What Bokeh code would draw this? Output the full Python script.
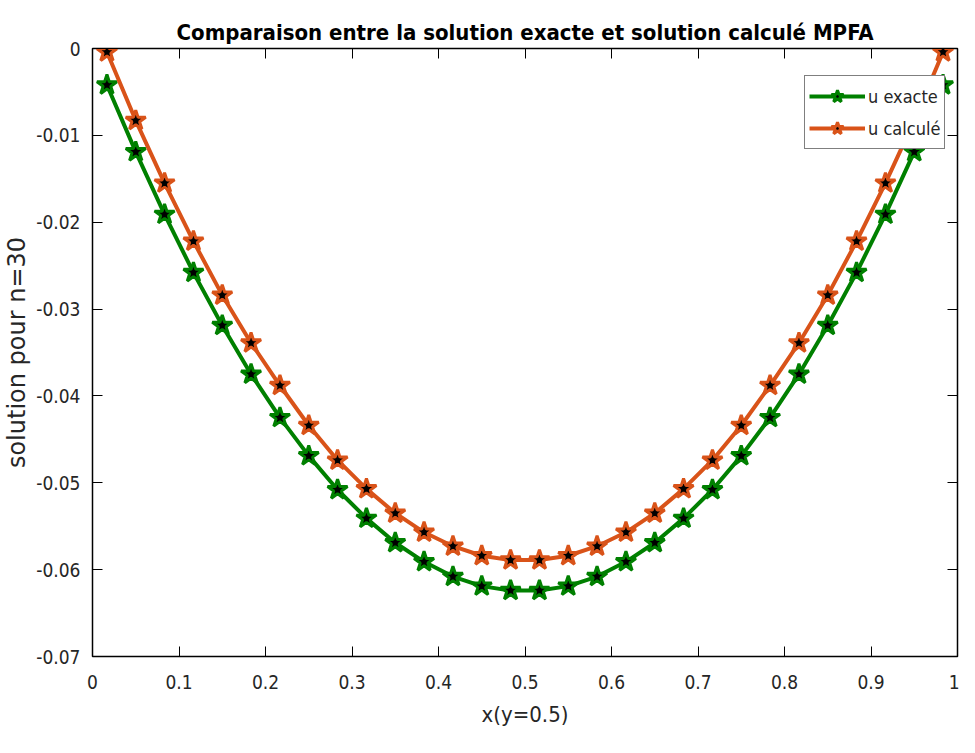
from bokeh.plotting import figure
from bokeh.models import LinearAxis, FixedTicker, PrintfTickFormatter, Range1d
from bokeh.embed import file_html
from bokeh.resources import INLINE

x_vals = [0.0167, 0.05, 0.0833, 0.1167, 0.15, 0.1833, 0.2167, 0.25, 0.2833, 0.3167,
          0.35, 0.3833, 0.4167, 0.45, 0.4833, 0.5167, 0.55, 0.5833, 0.6167, 0.65,
          0.6833, 0.7167, 0.75, 0.7833, 0.8167, 0.85, 0.8833, 0.9167, 0.95, 0.9833]

u_exacte = [-0.0042, -0.0119, -0.0191, -0.0258, -0.0319, -0.0375, -0.0425, -0.0469,
            -0.0508, -0.0541, -0.0569, -0.0591, -0.0608, -0.0619, -0.0624,
            -0.0624, -0.0619, -0.0608, -0.0591, -0.0569, -0.0541, -0.0508,
            -0.0469, -0.0425, -0.0375, -0.0319, -0.0258, -0.0191, -0.0119, -0.0042]

u_calcule = [-0.0004, -0.0083, -0.0155, -0.0222, -0.0284, -0.0339, -0.0388, -0.0434,
             -0.0474, -0.0507, -0.0535, -0.0557, -0.0573, -0.0584, -0.0589,
             -0.0589, -0.0584, -0.0573, -0.0557, -0.0535, -0.0507, -0.0474,
             -0.0434, -0.0388, -0.0339, -0.0284, -0.0222, -0.0155, -0.0083, -0.0004]

x_ticks = [0, 0.1, 0.2, 0.3, 0.4, 0.5, 0.6, 0.7, 0.8, 0.9, 1.0]
y_ticks = [-0.07, -0.06, -0.05, -0.04, -0.03, -0.02, -0.01, 0.0]

GREEN = "#008000"
ORANGE = "#D95319"
FONT = "DejaVu Sans"
COND = "DejaVu Sans Condensed"
TXT = "#262626"

p = figure(width=959, height=737, output_backend="svg", toolbar_location=None,
           x_range=Range1d(0, 1), y_range=Range1d(-0.07, 0),
           min_border_left=90, min_border_right=2, min_border_top=48, min_border_bottom=81)

p.title.text = "Comparaison entre la solution exacte et solution calculé MPFA"
p.title.align = "center"
p.title.text_font = COND
p.title.text_font_size = "22px"
p.title.text_font_style = "bold"
p.title.text_color = "black"
p.title.offset = 0
p.title.standoff = 8

p.grid.visible = False
p.outline_line_color = "black"
p.outline_line_width = 1.5

for ax, ticks in ((p.xaxis[0], x_ticks), (p.yaxis[0], y_ticks)):
    ax.ticker = FixedTicker(ticks=ticks)
    ax.formatter = PrintfTickFormatter(format="%g")
    ax.major_tick_in = 10
    ax.major_tick_out = 0
    ax.minor_tick_line_color = None
    ax.axis_line_color = "black"
    ax.major_tick_line_color = "black"
    ax.major_label_text_font = COND
    ax.major_label_text_font_size = "19px"
    ax.major_label_text_color = TXT

p.xaxis.axis_label = "x(y=0.5)"
p.xaxis.axis_label_text_font = COND
p.xaxis.axis_label_text_font_size = "22px"
p.xaxis.axis_label_text_font_style = "normal"
p.xaxis.axis_label_text_color = TXT
p.xaxis.major_label_standoff = 18
p.xaxis.axis_label_standoff = 10

p.yaxis.axis_label = "solution pour n=30"
p.yaxis.axis_label_text_font = FONT
p.yaxis.axis_label_text_font_size = "24px"
p.yaxis.axis_label_text_font_style = "normal"
p.yaxis.axis_label_text_color = TXT
p.yaxis.major_label_standoff = 12
p.yaxis.axis_label_standoff = 2

top_ax = LinearAxis(ticker=FixedTicker(ticks=x_ticks), major_label_text_font_size="1px",
                    major_label_text_color=None,
                    major_label_standoff=0, major_tick_in=10, major_tick_out=0,
                    minor_tick_line_color=None, axis_line_color="black")
right_ax = LinearAxis(ticker=FixedTicker(ticks=y_ticks), major_label_text_font_size="1px",
                      major_label_text_color=None,
                      major_label_standoff=0, major_tick_in=10, major_tick_out=0,
                      minor_tick_line_color=None, axis_line_color="black")
p.add_layout(top_ax, "above")
p.add_layout(right_ax, "right")

for ys, col, lab in ((u_exacte, GREEN, "u exacte"), (u_calcule, ORANGE, "u calculé")):
    p.line(x_vals, ys, line_color=col, line_width=4, legend_label=lab)
    p.scatter(x_vals, ys, marker="star", size=21, fill_color="black",
              line_color=col, line_width=3, legend_label=lab)

lg = p.legend[0]
lg.location = (712, 507)
lg.margin = 0
lg.border_line_color = "black"
lg.border_line_width = 1
lg.background_fill_alpha = 1
lg.label_text_font = COND
lg.label_text_font_size = "18px"
lg.label_text_color = TXT
lg.glyph_width = 56
lg.glyph_height = 32
lg.spacing = 0
lg.padding = 4
lg.label_standoff = 3
lg.label_height = 32

open("out.html", "w").write(file_html(p, INLINE))
